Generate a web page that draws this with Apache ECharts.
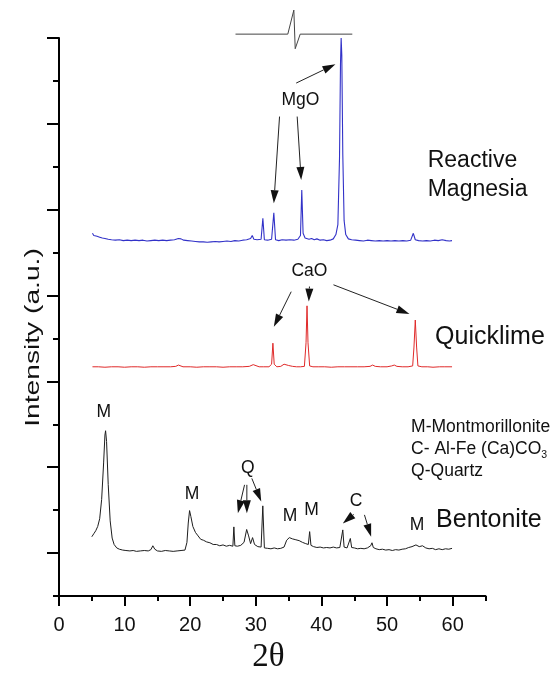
<!DOCTYPE html>
<html><head><meta charset="utf-8">
<script src="https://cdn.jsdelivr.net/npm/echarts@6/dist/echarts.min.js"></script>
<style>html,body{margin:0;padding:0;background:#fff}#c{width:554px;height:675px}</style>
</head><body><div id="c"></div>
<script>
// ---- data (2θ, stacked intensity in axis units) ----
const bentonite = [[5.0,1.38],[5.3,1.45],[5.6,1.52],[5.9,1.62],[6.2,1.80],[6.5,2.25],[6.8,3.1],[7.0,3.75],[7.1,3.85],[7.25,3.6],[7.5,2.6],[7.8,1.75],[8.1,1.35],[8.4,1.2],[8.8,1.12],[9.2,1.09],[9.7,1.07],[10.2,1.06],[10.8,1.05],[11.3,1.06],[11.8,1.04],[12.4,1.05],[13.0,1.06],[13.6,1.05],[14.0,1.08],[14.3,1.17],[14.6,1.09],[15.0,1.05],[15.6,1.04],[16.2,1.06],[16.8,1.05],[17.4,1.04],[18.0,1.05],[18.6,1.06],[19.2,1.07],[19.5,1.25],[19.7,1.7],[19.9,1.99],[20.1,1.85],[20.4,1.62],[20.8,1.48],[21.2,1.4],[21.6,1.32],[22.0,1.3],[22.5,1.26],[23.0,1.24],[23.5,1.2],[24.0,1.2],[24.5,1.17],[25.0,1.19],[25.5,1.16],[26.0,1.18],[26.5,1.16],[26.65,1.61],[26.8,1.17],[27.2,1.16],[27.7,1.18],[28.2,1.25],[28.6,1.55],[28.9,1.4],[29.2,1.22],[29.5,1.36],[29.8,1.2],[30.3,1.15],[30.8,1.14],[31.06,2.10],[31.3,1.12],[31.8,1.11],[32.3,1.1],[32.8,1.12],[33.3,1.1],[33.8,1.11],[34.3,1.14],[34.7,1.3],[35.1,1.36],[35.6,1.33],[36.1,1.31],[36.6,1.29],[37.1,1.25],[37.6,1.22],[38.0,1.2],[38.2,1.5],[38.4,1.18],[38.8,1.15],[39.3,1.13],[39.8,1.14],[40.3,1.12],[40.8,1.13],[41.3,1.12],[41.8,1.14],[42.3,1.12],[42.8,1.13],[43.1,1.15],[43.25,1.54],[43.45,1.14],[43.9,1.12],[44.2,1.15],[44.4,1.34],[44.6,1.13],[45.0,1.12],[45.5,1.1],[46.0,1.11],[46.5,1.1],[47.0,1.12],[47.5,1.17],[47.7,1.24],[47.9,1.13],[48.3,1.1],[48.8,1.08],[49.3,1.09],[49.8,1.07],[50.3,1.08],[50.8,1.06],[51.3,1.08],[51.8,1.07],[52.3,1.09],[52.8,1.1],[53.3,1.13],[53.8,1.15],[54.4,1.19],[54.9,1.15],[55.4,1.17],[55.9,1.12],[56.4,1.1],[56.9,1.11],[57.4,1.08],[57.9,1.1],[58.4,1.08],[58.9,1.1],[59.4,1.09],[59.9,1.11]];

const quicklime = [[5.1,5.34],[6,5.34],[7,5.33],[8,5.34],[9,5.34],[10,5.33],[11,5.34],[12,5.34],[13,5.33],[14,5.34],[15,5.34],[16,5.34],[17,5.34],[17.8,5.35],[18.2,5.38],[18.5,5.37],[18.9,5.34],[20,5.34],[21,5.33],[22,5.34],[23,5.34],[24,5.34],[25,5.33],[26,5.34],[27,5.34],[28,5.34],[29,5.35],[29.6,5.39],[29.9,5.35],[30.5,5.34],[31.2,5.34],[32,5.34],[32.4,5.4],[32.6,5.89],[32.8,5.4],[33.2,5.34],[33.8,5.35],[34.3,5.4],[34.6,5.42],[35.0,5.37],[35.6,5.35],[36.2,5.34],[36.8,5.34],[37.4,5.35],[37.65,5.9],[37.8,6.76],[37.95,5.9],[38.2,5.36],[38.7,5.34],[39.5,5.34],[40.5,5.34],[41.5,5.33],[42.5,5.34],[43.5,5.34],[44.5,5.34],[45.5,5.34],[46.5,5.34],[47.4,5.35],[47.8,5.38],[48.2,5.35],[49,5.34],[50,5.34],[50.7,5.36],[51.1,5.38],[51.5,5.35],[52.3,5.34],[53.2,5.34],[53.9,5.36],[54.1,5.8],[54.3,6.43],[54.5,5.8],[54.7,5.36],[55.3,5.34],[56.2,5.34],[57,5.33],[58,5.34],[58.8,5.34],[59.9,5.34]];

const magnesia = [[5.1,8.45],[5.3,8.40],[5.5,8.42],[5.8,8.38],[6.2,8.36],[6.6,8.34],[7.0,8.33],[7.5,8.31],[8.0,8.30],[8.6,8.29],[9.2,8.30],[9.8,8.28],[10.4,8.29],[11.0,8.28],[11.6,8.29],[12.2,8.28],[12.8,8.29],[13.4,8.27],[14.0,8.28],[14.6,8.29],[15.2,8.28],[15.8,8.29],[16.4,8.28],[17.0,8.29],[17.6,8.30],[18.2,8.33],[18.6,8.32],[19.0,8.29],[19.6,8.28],[20.2,8.27],[20.8,8.26],[21.4,8.25],[22.0,8.25],[22.6,8.24],[23.2,8.25],[23.8,8.26],[24.4,8.25],[25.0,8.26],[25.6,8.27],[26.2,8.26],[26.8,8.28],[27.4,8.27],[28.0,8.29],[28.6,8.30],[29.2,8.33],[29.45,8.40],[29.7,8.31],[30.2,8.30],[30.8,8.31],[31.07,8.80],[31.3,8.30],[31.8,8.29],[32.4,8.31],[32.74,8.93],[33.0,8.30],[33.5,8.28],[34.0,8.30],[34.6,8.29],[35.2,8.30],[35.8,8.29],[36.4,8.31],[36.8,8.40],[37.0,9.46],[37.2,8.45],[37.5,8.34],[37.8,8.36],[38.1,8.31],[38.5,8.33],[38.9,8.30],[39.3,8.32],[39.8,8.29],[40.3,8.30],[40.8,8.28],[41.3,8.29],[41.8,8.32],[42.2,8.42],[42.5,8.65],[42.75,10.2],[42.9,12.4],[43.0,13.0],[43.1,12.6],[43.25,10.3],[43.45,8.75],[43.7,8.42],[44.1,8.32],[44.6,8.30],[45.2,8.29],[45.8,8.28],[46.4,8.27],[47.0,8.29],[47.6,8.28],[48.2,8.27],[48.8,8.28],[49.4,8.27],[50.0,8.28],[50.6,8.27],[51.2,8.28],[51.8,8.27],[52.4,8.28],[53.0,8.27],[53.6,8.29],[54.0,8.45],[54.3,8.30],[54.8,8.28],[55.4,8.27],[56.0,8.28],[56.6,8.27],[57.2,8.29],[57.8,8.28],[58.4,8.30],[59.0,8.28],[59.5,8.27],[59.9,8.28]];

const xMajorTicks = [0,10,20,30,40,50,60];
const xMinorTicks = [5,15,25,35,45,55,65];
const yMajorTicks = [1,3,5,7,9,11,13];

// ---- annotations (in data coordinates) ----
const peakLabels = [
  {text:'M', at:[6.81,4.28]}, {text:'M', at:[20.28,2.38]}, {text:'Q', at:[28.78,2.98]},
  {text:'M', at:[35.21,1.85]}, {text:'M', at:[38.48,1.99]}, {text:'C', at:[45.29,2.20]},
  {text:'M', at:[54.55,1.64]}, {text:'MgO', at:[36.80,11.56]}, {text:'CaO', at:[38.17,7.57]}
];
const arrows = [
  [[36.15,11.95],[42.13,12.39]], [[33.61,11.17],[32.74,9.15]], [[36.30,11.17],[36.91,9.69]],
  [[35.39,7.09],[32.74,6.27]], [[38.17,7.21],[38.07,6.86]], [[41.83,7.25],[53.41,6.57]],
  [[28.28,2.59],[27.26,1.93]], [[28.63,2.59],[28.63,1.93]], [[29.39,2.74],[30.82,2.20]],
  [[44.92,1.90],[43.25,1.69]], [[46.55,1.89],[47.57,1.38]]
];
const breakMark = [[26.9,13.09],[34.87,13.09],[35.79,13.65],[36.0,12.75],[36.76,13.09],[44.7,13.09]];

const FONT = '"Liberation Sans", Arial, sans-serif';
const chart = echarts.init(document.getElementById('c'), null, {renderer:'canvas'});

function xAxisBase(extra){
  return Object.assign({type:'value', min:0, max:65, interval:5, position:'bottom',
    splitLine:{show:false}}, extra);
}
function yAxisBase(extra){
  return Object.assign({type:'value', min:0, max:13, interval:1, position:'left',
    splitLine:{show:false}, axisLabel:{show:false}}, extra);
}

chart.setOption({
  animation:false,
  backgroundColor:'#fff',
  grid:{left:59, right:68.5, top:38, bottom:79},
  xAxis:[
    xAxisBase({axisLine:{onZero:false, lineStyle:{color:'#000', width:2}},
      axisTick:{customValues:xMajorTicks, length:10, lineStyle:{color:'#000', width:2}},
      axisLabel:{customValues:xMajorTicks, fontSize:20, fontFamily:FONT, color:'#111', margin:19}}),
    xAxisBase({axisLine:{show:false, onZero:false},
      axisTick:{customValues:xMinorTicks, length:5, lineStyle:{color:'#000', width:2}},
      axisLabel:{show:false}})
  ],
  yAxis:[
    yAxisBase({axisLine:{onZero:false, lineStyle:{color:'#000', width:2}},
      axisTick:{length:6, lineStyle:{color:'#000', width:2}}}),
    yAxisBase({axisLine:{show:false, onZero:false},
      axisTick:{customValues:yMajorTicks, length:12, lineStyle:{color:'#000', width:2}}})
  ],
  series:[
    {type:'line', name:'Bentonite', data:bentonite, showSymbol:false, symbol:'none',
      lineStyle:{color:'#1e1e1e', width:1}, xAxisIndex:0, yAxisIndex:0},
    {type:'line', name:'Quicklime', data:quicklime, showSymbol:false, symbol:'none',
      lineStyle:{color:'#e02a2a', width:1}, xAxisIndex:0, yAxisIndex:0},
    {type:'line', name:'Reactive Magnesia', data:magnesia, showSymbol:false, symbol:'none',
      lineStyle:{color:'#3232c8', width:1.1}, xAxisIndex:0, yAxisIndex:0}
  ]
});

function px(p){ return chart.convertToPixel({seriesIndex:0}, p); }
function textEl(text, p, size, align, extra){
  const q = px(p);
  return Object.assign({type:'text', x:q[0], y:q[1], silent:true, z:10,
    style:Object.assign({text:text, fontSize:size, fontFamily:FONT, fill:'#111',
      align:align, textAlign:align, verticalAlign:'middle', textVerticalAlign:'middle'}, extra||{})});
}
function arrowEls(a, b){
  const p1 = px(a), p2 = px(b);
  const dx = p2[0]-p1[0], dy = p2[1]-p1[1], L = Math.hypot(dx,dy);
  const ux = dx/L, uy = dy/L, hl = Math.min(13, L), hw = 4;
  const bx = p2[0]-ux*hl, by = p2[1]-uy*hl;
  return [
    {type:'line', silent:true, z:10, shape:{x1:p1[0], y1:p1[1], x2:bx, y2:by}, style:{stroke:'#222', lineWidth:1}},
    {type:'polygon', silent:true, z:10, shape:{points:[[p2[0],p2[1]],[bx-uy*hw, by+ux*hw],[bx+uy*hw, by-ux*hw]]}, style:{fill:'#111'}}
  ];
}

const g = [];
peakLabels.forEach(l => g.push(textEl(l.text, l.at, 17.5, 'center')));
arrows.forEach(a => arrowEls(a[0], a[1]).forEach(e => g.push(e)));
g.push({type:'polyline', silent:true, z:10, shape:{points:breakMark.map(px)}, style:{stroke:'#444', lineWidth:1, fill:null}});
g.push(textEl('Reactive\nMagnesia', [56.19,9.80], 23, 'left', {lineHeight:29.3}));
g.push(textEl('Quicklime', [57.32,6.04], 25, 'left'));
g.push(textEl('Bentonite', [57.47,1.77], 25, 'left'));
g.push(textEl('{t|M-Montmorillonite}\n{t|C- Al-Fe (Ca)CO}{s|3}\n{t|Q-Quartz}', [53.66,3.42], 17.5, 'left', {
  rich:{t:{fontSize:17.5, fontFamily:FONT, lineHeight:22.2, fill:'#111'},
        s:{fontSize:10.5, fontFamily:FONT, lineHeight:12, verticalAlign:'bottom', fill:'#111'}}}));
// axis titles
g.push({type:'text', x:33.5, y:337.5, rotation:Math.PI/2, scaleX:1.41, silent:true, z:10,
  style:{text:'Intensity (a.u.)', fontSize:20, fontFamily:FONT, fill:'#111', align:'center', textAlign:'center', verticalAlign:'middle', textVerticalAlign:'middle'}});
g.push({type:'text', x:268.3, y:657.5, silent:true, z:10,
  style:{text:'2θ', fontSize:33, fontFamily:'"Liberation Serif", "Times New Roman", serif', fill:'#111', align:'center', textAlign:'center', verticalAlign:'middle', textVerticalAlign:'middle'}});

chart.setOption({graphic:g});
</script></body></html>
